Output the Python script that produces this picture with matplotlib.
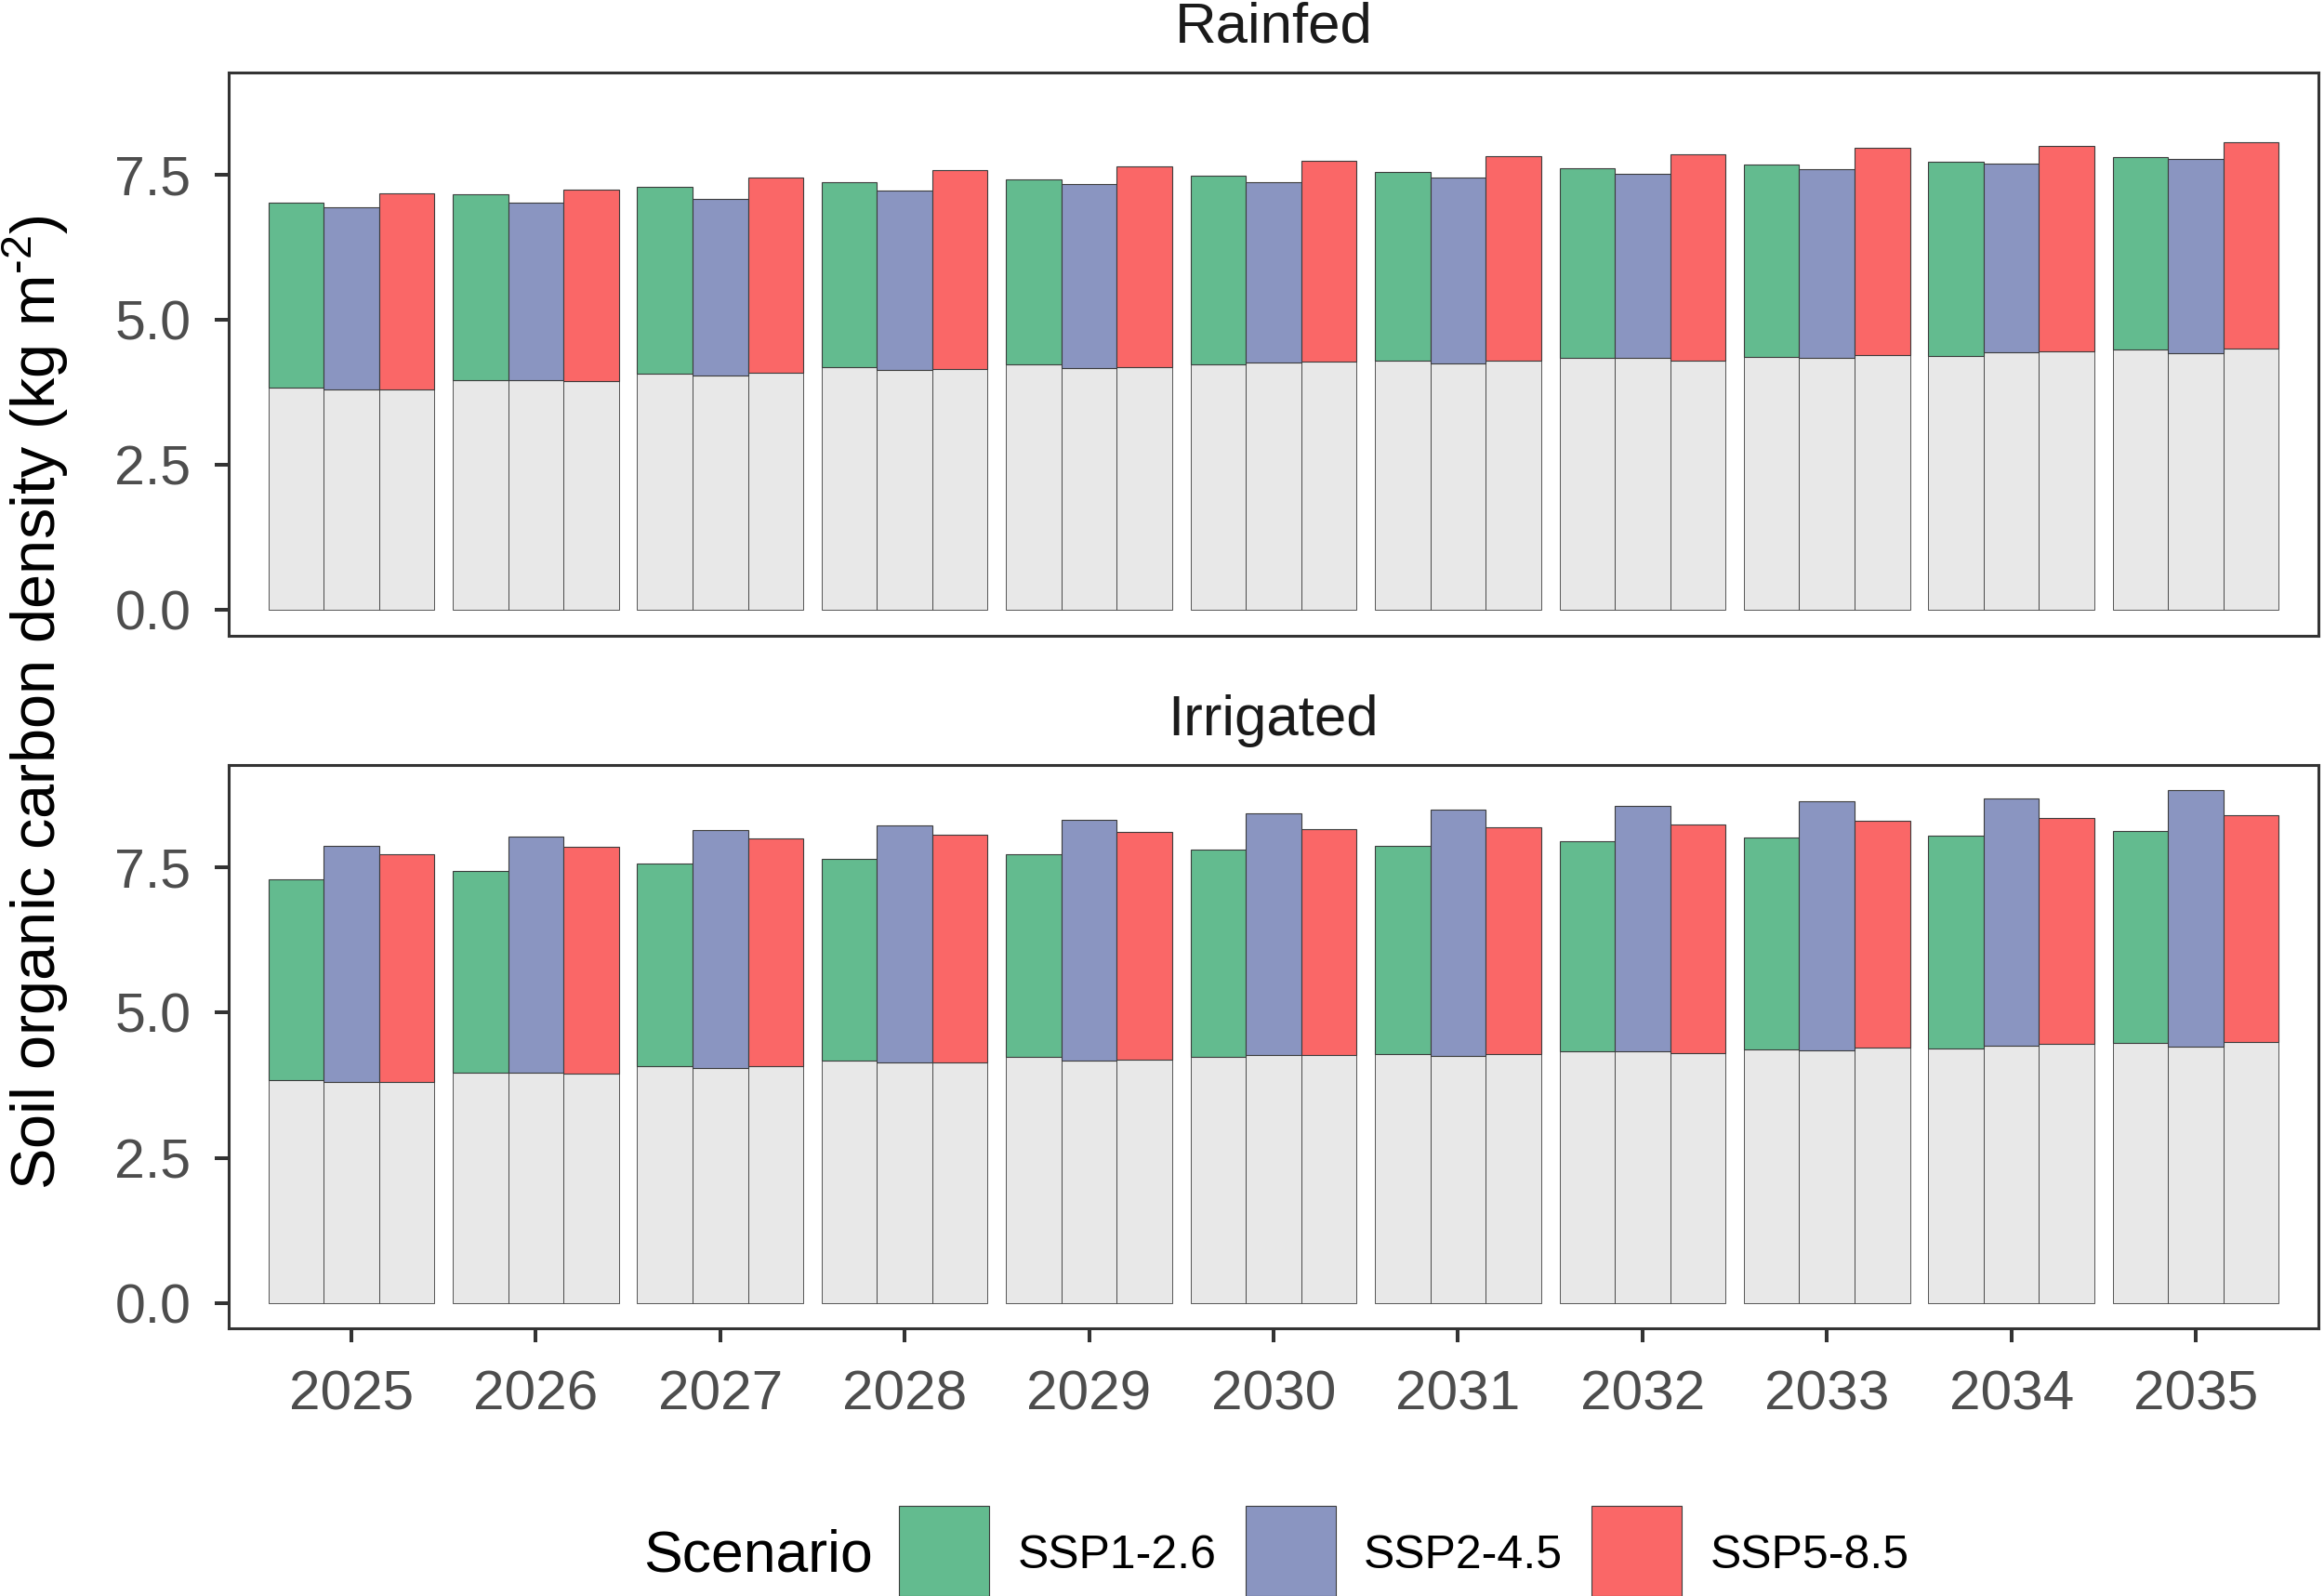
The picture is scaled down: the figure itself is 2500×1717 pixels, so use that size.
import matplotlib
matplotlib.use("Agg")
import matplotlib.pyplot as plt
from matplotlib.patches import Rectangle
import numpy as np

plt.rcParams['font.family'] = ['Liberation Sans', 'DejaVu Sans']
plt.rcParams['mathtext.fontset'] = 'custom'
plt.rcParams['mathtext.rm'] = 'Liberation Sans'
plt.rcParams['mathtext.it'] = 'Liberation Sans:italic'
plt.rcParams['mathtext.default'] = 'regular'

# ---------------- data ----------------
years = [2025, 2026, 2027, 2028, 2029, 2030, 2031, 2032, 2033, 2034, 2035]
scenarios = ["SSP1-2.6", "SSP2-4.5", "SSP5-8.5"]
panels = ["Rainfed", "Irrigated"]

# baseline (grey) part, same for both panels
base_ssp126 = [3.835, 3.96, 4.075, 4.175, 4.235, 4.23, 4.29, 4.34, 4.365, 4.38, 4.48]
base_ssp245 = [3.80, 3.96, 4.045, 4.135, 4.17, 4.27, 4.25, 4.34, 4.35, 4.435, 4.42]
base_ssp585 = [3.805, 3.945, 4.08, 4.145, 4.185, 4.275, 4.29, 4.295, 4.395, 4.455, 4.50]

# total heights (top of coloured part)
rain_ssp126 = [7.01, 7.16, 7.29, 7.36, 7.41, 7.47, 7.54, 7.61, 7.67, 7.71, 7.80]
rain_ssp245 = [6.94, 7.01, 7.08, 7.22, 7.34, 7.36, 7.45, 7.51, 7.59, 7.69, 7.76]
rain_ssp585 = [7.17, 7.24, 7.44, 7.57, 7.64, 7.74, 7.81, 7.85, 7.95, 7.99, 8.06]

irr_ssp126 = [7.29, 7.44, 7.56, 7.64, 7.73, 7.80, 7.87, 7.94, 8.01, 8.04, 8.13]
irr_ssp245 = [7.87, 8.03, 8.14, 8.22, 8.32, 8.43, 8.49, 8.55, 8.64, 8.69, 8.82]
irr_ssp585 = [7.72, 7.85, 7.99, 8.06, 8.10, 8.16, 8.19, 8.24, 8.30, 8.34, 8.39]

ytick_vals = [0.0, 2.5, 5.0, 7.5]
ytick_labels = ["0.0", "2.5", "5.0", "7.5"]

# ---------------- styles ----------------
colors = ["#63BB8F", "#8A95C1", "#FA6767"]
base_color = "#E8E8E8"
edge = "#3C3C3C"
frame_col = "#333333"
tick_col = "#4D4D4D"

W, H = 2500, 1717
fig = plt.figure(figsize=(W / 100, H / 100), dpi=100)

bases = [base_ssp126, base_ssp245, base_ssp585]
tops = {"Rainfed": [rain_ssp126, rain_ssp245, rain_ssp585],
        "Irrigated": [irr_ssp126, irr_ssp245, irr_ssp585]}

allmax = max(max(v) for p in tops.values() for v in p)
ylo, yhi = -0.05 * allmax, allmax * 1.05

left = 246 / W
width = 2248 / W
ax_h = 606.5 / H
bottoms = [1 - 684 / H, 1 - 1429.4 / H]

x = np.arange(len(years))
bw = 0.3
offsets = [-0.3, 0.0, 0.3]

axes = []
for pi, panel in enumerate(panels):
    ax = fig.add_axes([left, bottoms[pi], width, ax_h])
    axes.append(ax)
    for si in range(3):
        b = np.array(bases[si])
        t = np.array(tops[panel][si])
        ax.bar(x + offsets[si], b, width=bw, color=base_color,
               edgecolor=edge, linewidth=0.6, zorder=2)
        ax.bar(x + offsets[si], t - b, bottom=b, width=bw, color=colors[si],
               edgecolor=edge, linewidth=0.8, zorder=3)
    ax.set_xlim(-0.665, len(years) - 1 + 0.665)
    ax.set_ylim(ylo, yhi)
    ax.set_yticks(ytick_vals)
    ax.set_yticklabels(ytick_labels)
    for sp in ax.spines.values():
        sp.set_color(frame_col)
        sp.set_linewidth(2.2)
    ax.tick_params(axis='y', length=10.8, width=2.9, color=frame_col,
                   labelsize=42.5, labelcolor=tick_col, pad=18.5)
    ax.set_title(panel, fontsize=44.5, color="#1A1A1A", pad=23)
    if pi == 0:
        ax.set_xticks([])
    else:
        ax.set_xticks(x)
        ax.set_xticklabels([str(y) for y in years])
        ax.tick_params(axis='x', length=10.8, width=2.9, color=frame_col,
                       labelsize=43.5, labelcolor=tick_col, pad=21)

fig.text(38 / W, 1 - 756 / H, "Soil organic carbon density (kg m$^{\u2010 2}$)".replace("\u2010 ", "\u2010"),
         rotation=90, ha='center', va='center', fontsize=48, color='black')

# ---------------- legend ----------------
fig.text(692 / W, 1 - 1690 / H, "Scenario", fontsize=45, ha='left',
         va='baseline', color='black')
key_x = [967, 1340, 1712]
lab_x = [1095, 1467, 1840]
for si, name in enumerate(scenarios):
    fig.add_artist(Rectangle((key_x[si] / W, 0.0), 97 / W, 97 / H,
                             transform=fig.transFigure, facecolor=colors[si],
                             edgecolor=edge, linewidth=0.8))
    fig.text(lab_x[si] / W, 1 - 1687 / H, name, fontsize=36, ha='left',
             va='baseline', color='black')

fig.savefig("out.png", dpi=100, facecolor='white')
